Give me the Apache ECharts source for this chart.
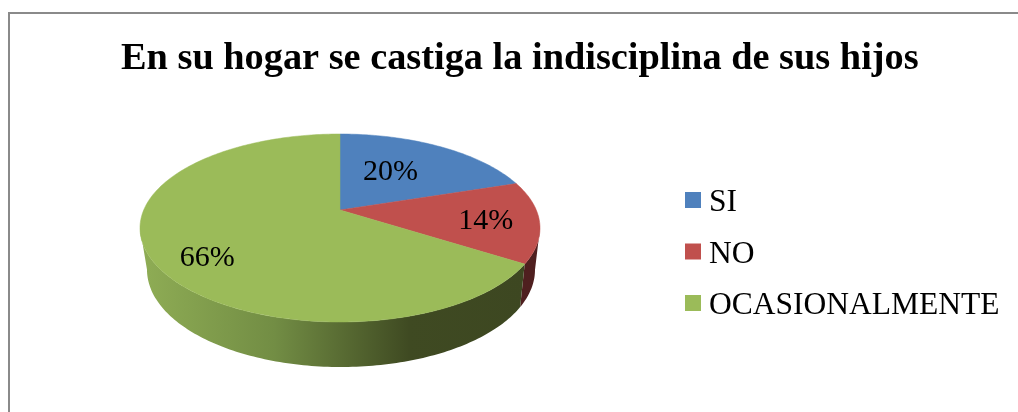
<!DOCTYPE html>
<html>
<head>
<meta charset="utf-8">
<title>En su hogar se castiga la indisciplina de sus hijos</title>
<script src="https://cdn.jsdelivr.net/npm/echarts@6/dist/echarts.min.js"></script>
<style>
  html, body { margin: 0; padding: 0; background: #fff; }
  #chart { width: 1018px; height: 412px; }
</style>
</head>
<body>
<div id="chart"></div>
<script>
const chartTitle = 'En su hogar se castiga la indisciplina de sus hijos'
const categories = ['SI', 'NO', 'OCASIONALMENTE']
const sliceValues = [20, 14, 66]
const sliceColors = ['#4f81bd', '#c0504d', '#9bbb59']
const labelTexts = ['20%', '14%', '66%']

// perspective pie: where the disc sits on the page and how it tilts
const pie = { cx: 340, cy: 210, ax: 196.3, ay: 90.55, tilt: 0.1915 }
const wallRange = [101, 259] // the part of the rim that faces the viewer, degrees clockwise from top
const labelRadius = [0.47, 0.735, 0.72]
const labelDy = [-6, 3, 14]

const total = sliceValues.reduce((a, b) => a + b, 0)

function project(deg, r) {
  const t = deg * Math.PI / 180
  const u = Math.sin(t) * r
  const v = -Math.cos(t) * r
  const d = 1 - pie.tilt * v
  return [pie.cx + pie.ax * u / d, pie.cy + pie.ay * v / d]
}

// lower edge of the side wall, from a point on the upper rim
function lower(p) {
  return [pie.cx + 1 + (p[0] - pie.cx) * 0.97, p[1] + 43 + (p[1] - 264) * 0.035]
}

function arcPoints(from, to, r) {
  const pts = []
  const steps = Math.max(2, Math.ceil(Math.abs(to - from)))
  for (let i = 0; i <= steps; i++) {
    pts.push(project(from + (to - from) * i / steps, r))
  }
  return pts
}

function wallFill(index) {
  if (index === 2) {
    return {
      type: 'linear', x: 0, y: 0, x2: 1, y2: 0,
      colorStops: [
        { offset: 0, color: '#8fad55' },
        { offset: 0.35, color: '#728d44' },
        { offset: 0.7, color: '#3f4a22' },
        { offset: 1, color: '#3d4721' }
      ]
    }
  }
  return '#4f1f1f'
}

function makeRenderItem(index) {
  return function (params, api) {
    const before = sliceValues.slice(0, index).reduce((a, b) => a + b, 0)
    const start = before / total * 360
    const end = start + api.value(0) / total * 360
    const children = []

    const from = Math.max(start, wallRange[0])
    const to = Math.min(end, wallRange[1])
    if (to > from) {
      const rim = arcPoints(from, to, 1)
      children.push({
        type: 'polygon',
        z2: 1,
        shape: { points: rim.concat(rim.map(lower).reverse()) },
        style: { fill: wallFill(index) }
      })
    }

    children.push({
      type: 'polygon',
      z2: 2,
      shape: { points: [[pie.cx, pie.cy]].concat(arcPoints(start, end, 1)) },
      style: { fill: sliceColors[index], stroke: sliceColors[index], lineWidth: 0.5 }
    })

    const anchor = project((start + end) / 2, labelRadius[index])
    children.push({
      type: 'text',
      z2: 3,
      style: {
        x: anchor[0],
        y: anchor[1] + labelDy[index],
        text: labelTexts[index],
        fill: '#000',
        font: '30px "Liberation Serif", "Times New Roman", serif',
        align: 'center',
        verticalAlign: 'middle'
      }
    })
    return { type: 'group', children: children }
  }
}

const myChart = echarts.init(document.getElementById('chart'))

myChart.setOption({
  animation: false,
  title: {
    text: chartTitle,
    left: 121,
    top: 40,
    padding: 0,
    textStyle: {
      color: '#000',
      fontFamily: '"Liberation Serif", "Times New Roman", serif',
      fontWeight: 'bold',
      fontSize: 38.35
    }
  },
  legend: {
    data: categories,
    orient: 'vertical',
    left: 685,
    top: 181,
    padding: 0,
    icon: 'rect',
    itemWidth: 16,
    itemHeight: 16,
    itemGap: 13.5,
    selectedMode: false,
    formatter: name => '{a|' + name + '}',
    textStyle: {
      rich: {
        a: {
          color: '#000',
          fontFamily: '"Liberation Serif", "Times New Roman", serif',
          fontSize: 31.5,
          lineHeight: 30,
          padding: [6, 0, 0, 3]
        }
      }
    }
  },
  graphic: [
    {
      type: 'rect',
      silent: true,
      shape: { x: 9, y: 13, width: 1100, height: 500 },
      style: { fill: 'none', stroke: '#8a8a8a', lineWidth: 2 }
    }
  ],
  series: categories.map((name, i) => ({
    name: name,
    type: 'custom',
    coordinateSystem: 'none',
    itemStyle: { color: sliceColors[i] },
    renderItem: makeRenderItem(i),
    data: [[sliceValues[i]]]
  }))
})
</script>
</body>
</html>
